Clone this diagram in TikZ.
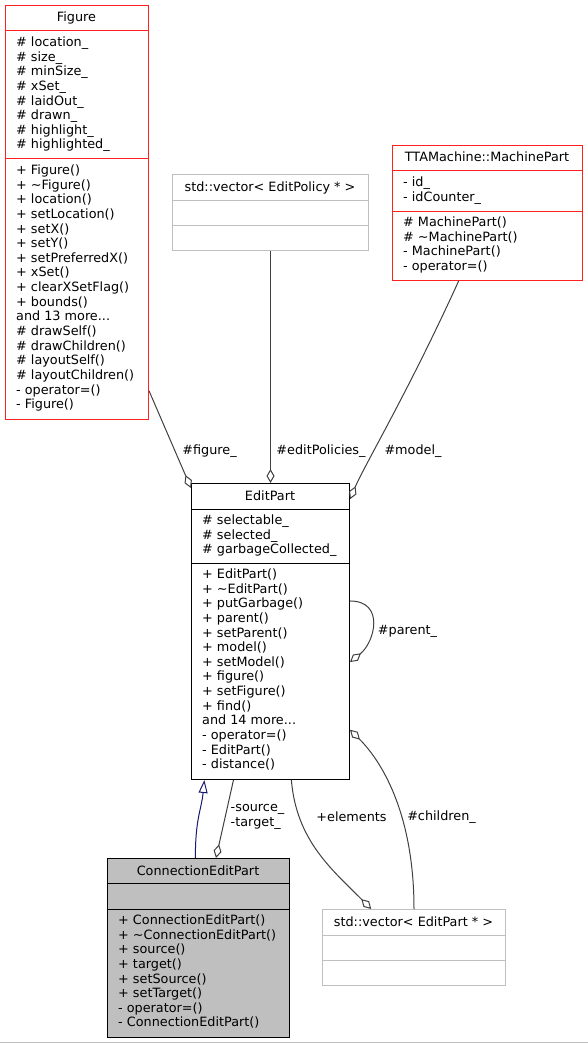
\documentclass[tikz,border=0pt]{standalone}
\usepackage{fontspec}
\setmainfont{DejaVu Sans}
\usepackage{tikz}
\usetikzlibrary{arrows.meta}

\definecolor{edgegray}{HTML}{404040}
\definecolor{boxgray}{HTML}{BFBFBF}
\definecolor{navyline}{HTML}{191970}
\definecolor{redline}{HTML}{FF2020}

\newcommand{\umlfont}{\fontsize{12.8}{14.65}\selectfont}

\tikzset{
	classbox/.style={draw, rectangle, inner sep=0pt, anchor=north west, line width=1pt},
	classname/.style={font=\umlfont, inner sep=0pt, anchor=base},
	members/.style={font=\umlfont, align=left, anchor=north west, inner xsep=11pt, inner ysep=5.5pt, execute at begin node=\strut},
	aggregation/.style={draw=edgegray, line width=1pt, -{Diamond[open, length=14pt, width=8pt]}},
	inherit/.style={draw=navyline, line width=1pt, -{Triangle[open, length=13pt, width=9pt]}},
	rolename/.style={font=\umlfont, inner sep=0pt, align=left}
}

\begin{document}
\begin{tikzpicture}[x=1pt, y=-1pt]
		\useasboundingbox (0,0) rectangle (588,1043);

		% Figure
		\node[classbox, draw=redline, minimum width=143pt, minimum height=414pt] (figure) at (5,5) {};
		\node[classname] (figuretitle) at (76.5,22) {Figure};
		\coordinate (figattr) at (5,31);
		\coordinate (figops) at (5,159);
		\draw[redline, line width=1pt] (figattr) -- (figattr -| figure.east);
		\draw[redline, line width=1pt] (figops) -- (figops -| figure.east);
		\node[members] (figureattr) at (figattr) {\# location\_\\\# size\_\\\# minSize\_\\\# xSet\_\\\# laidOut\_\\\# drawn\_\\\# highlight\_\\\# highlighted\_};
		\node[members] (figureops) at (figops) {+ Figure()\\+ \textasciitilde Figure()\\+ location()\\+ setLocation()\\+ setX()\\+ setY()\\+ setPreferredX()\\+ xSet()\\+ clearXSetFlag()\\+ bounds()\\and 13 more...\\\# drawSelf()\\\# drawChildren()\\\# layoutSelf()\\\# layoutChildren()\\- operator=()\\- Figure()};

		% std::vector< EditPolicy * >
		\node[classbox, draw=boxgray, minimum width=196pt, minimum height=76pt] (vecpolicy) at (172,174) {};
		\node[classname] (vecpolicytitle) at (270,191) {std::vector< EditPolicy * >};
		\draw[boxgray, line width=1pt] (172,200) -- (368,200);
		\draw[boxgray, line width=1pt] (172,225) -- (368,225);

		% TTAMachine::MachinePart
		\node[classbox, draw=redline, minimum width=190pt, minimum height=135pt] (machinepart) at (392,145) {};
		\node[classname] (machineparttitle) at (487,162) {TTAMachine::MachinePart};
		\coordinate (mpattr) at (392,171);
		\coordinate (mpops) at (392,211);
		\draw[redline, line width=1pt] (mpattr) -- (mpattr -| machinepart.east);
		\draw[redline, line width=1pt] (mpops) -- (mpops -| machinepart.east);
		\node[members] (machinepartattr) at (mpattr) {- id\_\\- idCounter\_};
		\node[members] (machinepartops) at (mpops) {\# MachinePart()\\\# \textasciitilde MachinePart()\\- MachinePart()\\- operator=()};

		% EditPart
		\node[classbox, minimum width=158pt, minimum height=296pt] (editpart) at (191,483) {};
		\node[classname] (editparttitle) at (270,500) {EditPart};
		\coordinate (epattr) at (191,509);
		\coordinate (epops) at (191,563);
		\draw[line width=1pt] (epattr) -- (epattr -| editpart.east);
		\draw[line width=1pt] (epops) -- (epops -| editpart.east);
		\node[members] (editpartattr) at (epattr) {\# selectable\_\\\# selected\_\\\# garbageCollected\_};
		\node[members] (editpartops) at (epops) {+ EditPart()\\+ \textasciitilde EditPart()\\+ putGarbage()\\+ parent()\\+ setParent()\\+ model()\\+ setModel()\\+ figure()\\+ setFigure()\\+ find()\\and 14 more...\\- operator=()\\- EditPart()\\- distance()};

		% ConnectionEditPart
		\node[classbox, fill=boxgray, minimum width=182pt, minimum height=179pt] (connep) at (107,858) {};
		\node[classname] (conneptitle) at (198,875) {ConnectionEditPart};
		\coordinate (ceattr) at (107,883);
		\coordinate (ceops) at (107,909);
		\draw[line width=1pt] (ceattr) -- (ceattr -| connep.east);
		\draw[line width=1pt] (ceops) -- (ceops -| connep.east);
		\node[members] (connepops) at (ceops) {+ ConnectionEditPart()\\+ \textasciitilde ConnectionEditPart()\\+ source()\\+ target()\\+ setSource()\\+ setTarget()\\- operator=()\\- ConnectionEditPart()};

		% std::vector< EditPart * >
		\node[classbox, draw=boxgray, minimum width=183pt, minimum height=76pt] (vecpart) at (322,909) {};
		\node[classname] (vecparttitle) at (413.5,926) {std::vector< EditPart * >};
		\draw[boxgray, line width=1pt] (322,935) -- (505,935);
		\draw[boxgray, line width=1pt] (322,960) -- (505,960);

		% Relations
		\draw[aggregation] (figure.-68.4) -- (editpart.119);
		\draw[aggregation] (vecpolicy.south) -- (editpart.north);
		\draw[aggregation] (machinepart.-113.3) .. controls +(-50,110) and +(15,-35) .. (editpart.59.5);
		\draw[aggregation] (editpart.21.4) .. controls +(35,0) and +(25,-20) .. (editpart.-21.4);
		\draw[aggregation] (vecpart.north) .. controls +(0,-90) and +(35,35) .. (editpart.-51.7);
		\draw[aggregation] (editpart.-82.3) .. controls +(5,60) and +(-40,-40) .. (vecpart.138.9);
		\draw[aggregation] (editpart.-104.8) -- (connep.79.4);
		\draw[inherit] (connep.92.6) .. controls +(0,-40) and +(-3,30) .. (editpart.-114.7);

		% Role names
		\node[rolename] (figurerole) at (209.5,451) {\#figure\_};
		\node[rolename] (policiesrole) at (321,451) {\#editPolicies\_};
		\node[rolename] (modelrole) at (413,451) {\#model\_};
		\node[rolename] (parentrole) at (407.5,631) {\#parent\_};
		\node[rolename] (elementsrole) at (351.5,817) {+elements};
		\node[rolename] (childrenrole) at (441.5,817) {\#children\_};
		\node[rolename] (endsrole) at (257.5,817) {-source\_\\-target\_};

		% Bottom edge
		\draw[boxgray, line width=1pt] (0,1042.5) -- (588,1042.5);
	\end{tikzpicture}
\end{document}
